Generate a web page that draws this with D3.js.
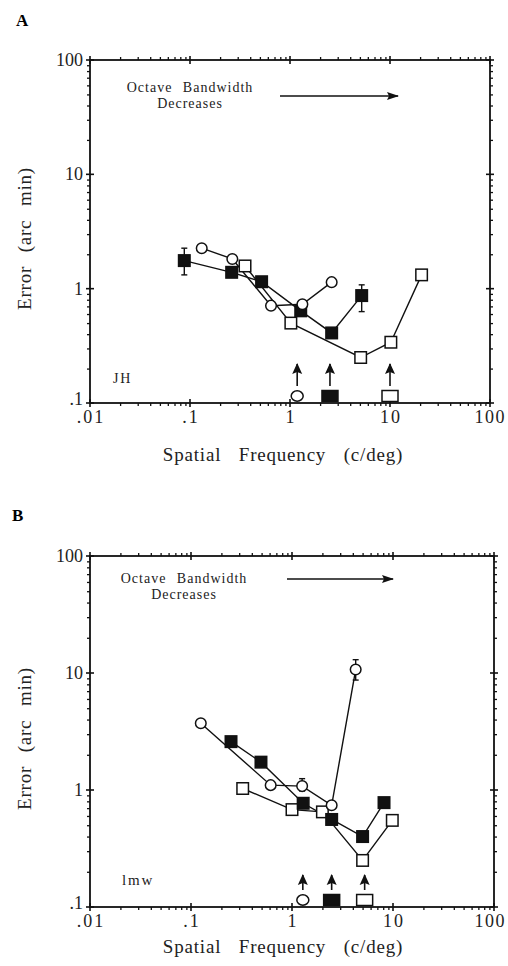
<!DOCTYPE html>
<html>
<head>
<meta charset="utf-8">
<script src="https://cdn.jsdelivr.net/npm/d3@7"></script>
<style>
  body { margin: 0; background: #fff; }
  svg { font-family: "Liberation Serif", "DejaVu Serif", serif; }
</style>
</head>
<body>
<div id="chart"></div>
<script>
// axis ticks and labels (log-log, shared by both panels)
let xTicks = [0.01, 0.1, 1, 10, 100];
let xTickLabels = [".01", ".1", "1", "10", "100"];
let yTicks = [0.1, 1, 10, 100];
let yTickLabels = [".1", "1", "10", "100"];

// Panel A (observer JH): [spatial frequency, error, errLo, errHi]
let jhCircle = [[0.131, 2.26], [0.265, 1.82], [0.646, 0.71], [1.33, 0.73], [2.61, 1.14]];
let jhFilled = [[0.0877, 1.76, 1.32, 2.26], [0.261, 1.39], [0.52, 1.15], [1.28, 0.64], [2.61, 0.41], [5.21, 0.87, 0.63, 1.08]];
let jhOpen = [[0.355, 1.58], [1.02, 0.50], [5.09, 0.25], [10.2, 0.34], [20.7, 1.32]];
let jhMarks = [1.18, 2.51, 10.0]; // circle, filled, open

// Panel B (observer lmw)
let lmwCircle = [[0.125, 3.72], [0.615, 1.10], [1.26, 1.08, 0.98, 1.25], [2.47, 0.74], [4.27, 10.7, 8.7, 13.0]];
let lmwFilled = [[0.249, 2.59], [0.493, 1.73], [1.29, 0.77], [2.47, 0.56], [5.0, 0.40], [8.15, 0.78]];
let lmwOpen = [[0.325, 1.03], [1.0, 0.68], [2.0, 0.65], [5.0, 0.25], [9.84, 0.55]];
let lmwMarks = [1.28, 2.47, 5.24];

let width = 508, height = 966;

let svg = d3.select("#chart").append("svg")
    .attr("width", width)
    .attr("height", height);

let panels = [
    { label: "A", observer: "JH", box: {left: 90, right: 490, top: 60, bottom: 403},
      circle: jhCircle, filled: jhFilled, open: jhOpen, marks: jhMarks,
      labelPos: [16, 26], obsPos: [113, 383], obsSize: 14, textX: 190, textY: 92,
      arrow: [280, 398, 96], titleY: 461, markArrow: 22 },
    { label: "B", observer: "lmw", box: {left: 90, right: 494, top: 556, bottom: 907},
      circle: lmwCircle, filled: lmwFilled, open: lmwOpen, marks: lmwMarks,
      labelPos: [12, 521], obsPos: [122, 885], obsSize: 15, textX: 184, textY: 583,
      arrow: [287, 393, 579], titleY: 953, markArrow: 15 }
];

let defs = svg.append("defs");
defs.append("marker")
    .attr("id", "head")
    .attr("viewBox", "0 0 12 10")
    .attr("refX", 11).attr("refY", 5)
    .attr("markerWidth", 12).attr("markerHeight", 10)
    .attr("markerUnits", "userSpaceOnUse")
    .attr("orient", "auto")
  .append("path")
    .attr("d", "M0,1 L12,5 L0,9 L2,5 Z")
    .attr("fill", "#111");
defs.append("marker")
    .attr("id", "uphead")
    .attr("viewBox", "0 0 11 11")
    .attr("refX", 10).attr("refY", 5.5)
    .attr("markerWidth", 11).attr("markerHeight", 11)
    .attr("markerUnits", "userSpaceOnUse")
    .attr("orient", "auto")
  .append("path")
    .attr("d", "M0,0.5 L11,5.5 L0,10.5 L2,5.5 Z")
    .attr("fill", "#111");

panels.forEach(function(p) {
    let b = p.box;
    let x = d3.scaleLog().domain([0.01, 100]).range([b.left, b.right]);
    let y = d3.scaleLog().domain([0.1, 100]).range([b.bottom, b.top]);
    let g = svg.append("g");

    // minor ticks (outside, all four sides)
    let xMinor = x.ticks().filter(d => xTicks.indexOf(d) < 0);
    let yMinor = y.ticks().filter(d => yTicks.indexOf(d) < 0);

    g.append("g").attr("transform", "translate(0," + b.bottom + ")")
        .call(d3.axisBottom(x).tickValues(xMinor).tickSize(3).tickFormat("").tickSizeOuter(0));
    g.append("g").attr("transform", "translate(0," + b.top + ")")
        .call(d3.axisTop(x).tickValues(xMinor).tickSize(3).tickFormat("").tickSizeOuter(0));
    g.append("g").attr("transform", "translate(" + b.left + ",0)")
        .call(d3.axisLeft(y).tickValues(yMinor).tickSize(3).tickFormat("").tickSizeOuter(0));
    g.append("g").attr("transform", "translate(" + b.right + ",0)")
        .call(d3.axisRight(y).tickValues(yMinor).tickSize(3).tickFormat("").tickSizeOuter(0));
    g.selectAll(".domain").remove();
    g.selectAll(".tick line").attr("stroke", "#111").attr("stroke-width", 1.3);

    // frame
    g.append("rect")
        .attr("x", b.left).attr("y", b.top)
        .attr("width", b.right - b.left).attr("height", b.bottom - b.top)
        .attr("fill", "none").attr("stroke", "#111").attr("stroke-width", 1.8);

    // major ticks crossing the frame
    xTicks.forEach(function(t) {
        [b.top, b.bottom].forEach(function(yy) {
            g.append("line").attr("x1", x(t)).attr("x2", x(t))
                .attr("y1", yy - 4).attr("y2", yy + 4)
                .attr("stroke", "#111").attr("stroke-width", 1.6);
        });
    });
    yTicks.forEach(function(t) {
        [b.left, b.right].forEach(function(xx) {
            g.append("line").attr("y1", y(t)).attr("y2", y(t))
                .attr("x1", xx - 4).attr("x2", xx + 4)
                .attr("stroke", "#111").attr("stroke-width", 1.6);
        });
    });

    // tick labels (last one kept inside the page)
    g.selectAll(".xl").data(xTicks).enter().append("text")
        .attr("x", (d, i) => i === xTicks.length - 1 ? Math.min(x(d) + 17, width - 2) : x(d) + 1)
        .attr("y", b.bottom + 20)
        .attr("text-anchor", (d, i) => i === xTicks.length - 1 ? "end" : "middle")
        .attr("font-size", 18).attr("letter-spacing", (d, i) => i === xTicks.length - 1 ? 1.5 : 2)
        .attr("fill", "#222")
        .text((d, i) => xTickLabels[i]);
    g.selectAll(".yl").data(yTicks).enter().append("text")
        .attr("x", b.left - 7).attr("y", d => y(d) + (d === 0.1 ? 2 : 6))
        .attr("text-anchor", "end")
        .attr("font-size", 18)
        .attr("fill", "#222")
        .text((d, i) => yTickLabels[i]);

    // axis titles
    g.append("text")
        .attr("x", 283).attr("y", p.titleY)
        .attr("text-anchor", "middle")
        .attr("font-size", 19).attr("letter-spacing", 0.8).attr("word-spacing", 12)
        .attr("fill", "#222")
        .text("Spatial Frequency (c/deg)");
    g.append("text")
        .attr("transform", "translate(31," + ((b.top + b.bottom) / 2 + 7) + ") rotate(-90)")
        .attr("text-anchor", "middle")
        .attr("font-size", 19).attr("letter-spacing", 0.8).attr("word-spacing", 8)
        .attr("fill", "#222")
        .text("Error (arc min)");

    // panel letter and observer
    g.append("text").attr("x", p.labelPos[0]).attr("y", p.labelPos[1])
        .attr("font-size", 17).attr("font-weight", "bold").text(p.label);
    g.append("text").attr("x", p.obsPos[0]).attr("y", p.obsPos[1])
        .attr("font-size", p.obsSize).attr("letter-spacing", 1.8).attr("fill", "#222").text(p.observer);

    // annotation
    g.append("text").attr("x", p.textX).attr("y", p.textY)
        .attr("text-anchor", "middle").attr("font-size", 14)
        .attr("letter-spacing", 1).attr("word-spacing", 6).attr("fill", "#222")
        .text("Octave Bandwidth");
    g.append("text").attr("x", p.textX).attr("y", p.textY + 16)
        .attr("text-anchor", "middle").attr("font-size", 14)
        .attr("letter-spacing", 1).attr("fill", "#222")
        .text("Decreases");
    g.append("line")
        .attr("x1", p.arrow[0]).attr("x2", p.arrow[1])
        .attr("y1", p.arrow[2]).attr("y2", p.arrow[2])
        .attr("stroke", "#111").attr("stroke-width", 1.6)
        .attr("marker-end", "url(#head)");

    let line = d3.line().x(d => x(d[0])).y(d => y(d[1]));

    // error bars
    [p.circle, p.filled, p.open].forEach(function(s) {
        s.filter(d => d.length > 2).forEach(function(d) {
            g.append("line").attr("x1", x(d[0])).attr("x2", x(d[0]))
                .attr("y1", y(d[2])).attr("y2", y(d[3]))
                .attr("stroke", "#111").attr("stroke-width", 1.4);
            [d[2], d[3]].forEach(function(v) {
                g.append("line").attr("x1", x(d[0]) - 3).attr("x2", x(d[0]) + 3)
                    .attr("y1", y(v)).attr("y2", y(v))
                    .attr("stroke", "#111").attr("stroke-width", 1.4);
            });
        });
    });

    // series lines
    [p.open, p.filled, p.circle].forEach(function(s) {
        g.append("path").datum(s).attr("d", line)
            .attr("fill", "none").attr("stroke", "#111").attr("stroke-width", 1.4);
    });

    // markers
    let sq = 11.5;
    g.selectAll(".open").data(p.open).enter().append("rect")
        .attr("x", d => x(d[0]) - sq / 2).attr("y", d => y(d[1]) - sq / 2)
        .attr("width", sq).attr("height", sq)
        .attr("fill", "#fff").attr("stroke", "#111").attr("stroke-width", 1.5);
    g.selectAll(".filled").data(p.filled).enter().append("rect")
        .attr("x", d => x(d[0]) - sq / 2).attr("y", d => y(d[1]) - sq / 2)
        .attr("width", sq).attr("height", sq)
        .attr("fill", "#111").attr("stroke", "#111").attr("stroke-width", 1.5);
    g.selectAll(".circ").data(p.circle).enter().append("circle")
        .attr("cx", d => x(d[0])).attr("cy", d => y(d[1])).attr("r", 5.3)
        .attr("fill", "#fff").attr("stroke", "#111").attr("stroke-width", 1.5);

    // cut-off markers along the bottom with arrows
    let my = b.bottom - 7;
    p.marks.forEach(function(m, i) {
        let cx = x(m);
        if (i === 0) {
            g.append("ellipse").attr("cx", cx).attr("cy", my).attr("rx", 6).attr("ry", 5.2)
                .attr("fill", "#fff").attr("stroke", "#111").attr("stroke-width", 1.5);
        } else {
            g.append("rect").attr("x", cx - 8).attr("y", my - 5.5)
                .attr("width", 16).attr("height", 11)
                .attr("fill", i === 1 ? "#111" : "#fff")
                .attr("stroke", "#111").attr("stroke-width", 1.5);
        }
        g.append("line").attr("x1", cx).attr("x2", cx)
            .attr("y1", my - 10).attr("y2", my - 10 - p.markArrow)
            .attr("stroke", "#111").attr("stroke-width", 1.6)
            .attr("marker-end", "url(#uphead)");
    });
});
</script>
</body>
</html>
